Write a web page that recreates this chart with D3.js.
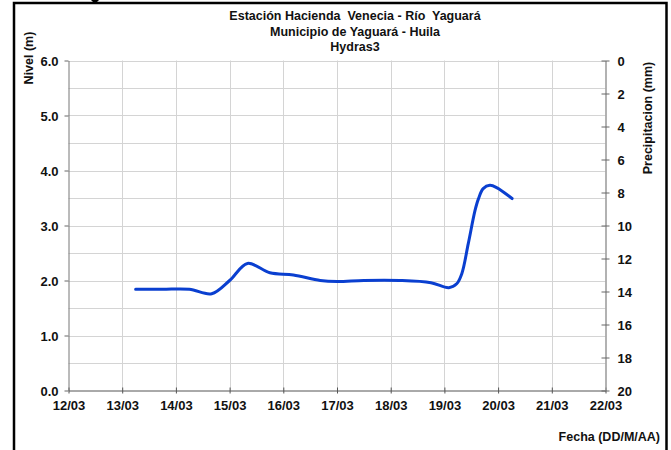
<!DOCTYPE html>
<html><head><meta charset="utf-8">
<script src="https://cdn.jsdelivr.net/npm/d3@7"></script>
<style>
body{margin:0;background:#fff;}
svg{display:block;font-family:"Liberation Sans",Arial,sans-serif;}
text{font-weight:bold;fill:#111;}
</style></head><body>
<svg id="c" width="671" height="450"></svg>
<script>
const titleLines = ["Estación Hacienda  Venecia - Río  Yaguará", "Municipio de Yaguará - Huila", "Hydras3"];
const yLeftLabel = "Nivel (m)";
const yRightLabel = "Precipitacion (mm)";
const xLabel = "Fecha (DD/M/AA)";
const xTickDays = ["12/03","13/03","14/03","15/03","16/03","17/03","18/03","19/03","20/03","21/03","22/03"];
const levelTimes = ["13/03 06:00","13/03 18:00","14/03 06:00","14/03 16:00","15/03 00:00","15/03 08:00","15/03 18:00","16/03 04:30","16/03 16:30","17/03 00:00","17/03 12:00","18/03 04:00","18/03 18:00","19/03 02:00","19/03 05:30","19/03 07:45","19/03 10:40","19/03 13:40","19/03 15:10","19/03 17:20","19/03 20:20","19/03 23:20","20/03 06:15"];
const levelValues = [1.84,1.84,1.84,1.76,2.0,2.31,2.14,2.1,2.0,1.98,2.0,2.0,1.96,1.87,1.94,2.12,2.67,3.27,3.48,3.67,3.73,3.69,3.49];

const parse = d3.timeParse("%d/%m/%Y %H:%M");
const pDay = s => parse(s + "/2013 00:00");
const pT = s => { const [d,t] = s.split(" "); return parse(d + "/2013 " + t); };
const data = levelTimes.map((t,i)=>({t:pT(t), v:levelValues[i]}));

const svg = d3.select("#c");
const L=68.5, R=605.5, T=60.5, B=390.5;
const x = d3.scaleTime().domain([pDay(xTickDays[0]), pDay(xTickDays[xTickDays.length-1])]).range([L,R]);
const y = d3.scaleLinear().domain([0,6]).range([B,T]);
const y2 = d3.scaleLinear().domain([0,20]).range([T,B]);

// frame
svg.append("path").attr("d","M14,452 V3 H666.5 V452").attr("fill","none").attr("stroke","#000").attr("stroke-width",2.5);
svg.append("path").attr("d","M50,0 L54,4 L58,0 Z").attr("transform","translate(41,0)").attr("fill","#000");

// gridlines
const g = svg.append("g");
g.selectAll(".hg").data(d3.range(0.5,6.01,0.5)).join("line")
 .attr("x1",L).attr("x2",R).attr("y1",d=>Math.round(y(d))+0.5).attr("y2",d=>Math.round(y(d))+0.5)
 .attr("stroke","#d4d4d4").attr("stroke-width",1);
g.selectAll(".vg").data(xTickDays.slice(1,-1).map(pDay)).join("line")
 .attr("y1",T).attr("y2",B).attr("x1",d=>Math.round(x(d))+0.5).attr("x2",d=>Math.round(x(d))+0.5)
 .attr("stroke","#d4d4d4").attr("stroke-width",1);

// axes
const fs = "13px";
const ax = svg.append("g").attr("transform",`translate(0,${B})`)
 .call(d3.axisBottom(x).tickValues(xTickDays.map(pDay)).tickFormat(d3.timeFormat("%d/%m")).tickSize(3).tickSizeOuter(0));
ax.selectAll("text").attr("dy","1.05em").style("font-size",fs).style("font-family","Liberation Sans, Arial").style("font-weight","bold").attr("fill","#111");
ax.selectAll(".tick line").attr("y1",-3).attr("stroke","#555");
ax.select(".domain").attr("stroke","#555");

const ayl = svg.append("g").attr("transform",`translate(${L},0)`)
 .call(d3.axisLeft(y).ticks(6).tickFormat(d3.format(".1f")).tickSize(4).tickSizeOuter(0).tickPadding(6));
ayl.selectAll("text").attr("dy","0.35em").style("font-size",fs).style("font-family","Liberation Sans, Arial").style("font-weight","bold").attr("fill","#111");
ayl.selectAll(".tick line").attr("stroke","#666");
ayl.select(".domain").attr("stroke","#777");

const ayr = svg.append("g").attr("transform",`translate(${R},0)`)
 .call(d3.axisRight(y2).ticks(10).tickSize(4).tickSizeOuter(0).tickPadding(8));
ayr.selectAll("text").attr("dy","0.35em").style("font-size",fs).style("font-family","Liberation Sans, Arial").style("font-weight","bold").attr("fill","#111");
ayr.selectAll(".tick line").attr("x1",-4).attr("stroke","#666");
ayr.select(".domain").attr("stroke","#999").attr("stroke-width",1.5);

// line
svg.append("path").datum(data)
 .attr("d", d3.line().x(d=>x(d.t)).y(d=>y(d.v)).curve(d3.curveCatmullRom.alpha(0.5)))
 .attr("fill","none").attr("stroke","#0a3fd0").attr("stroke-width",3).attr("stroke-linejoin","round").attr("stroke-linecap","round");

// titles
svg.selectAll(".title").data(titleLines).join("text")
 .attr("x",355).attr("y",(d,i)=>20+i*15.5).attr("text-anchor","middle")
 .style("font-size","12.5px").style("white-space","pre").attr("xml:space","preserve").text(d=>d);

svg.append("text").attr("transform","translate(33,58) rotate(-90)").attr("text-anchor","middle").style("font-size","12.5px").text(yLeftLabel);
svg.append("text").attr("transform","translate(652,118) rotate(-90)").attr("text-anchor","middle").style("font-size","12.5px").text(yRightLabel);
svg.append("text").attr("x",660).attr("y",441).attr("text-anchor","end").style("font-size","12.5px").text(xLabel);
</script></body></html>
